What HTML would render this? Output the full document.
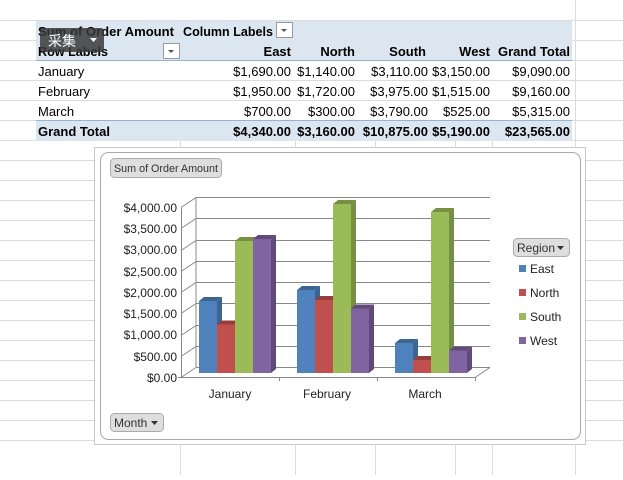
<!DOCTYPE html>
<html><head><meta charset="utf-8"><style>
body{margin:0;background:#fff;width:623px;height:475px;overflow:hidden;font-family:"Liberation Sans","Noto Sans CJK SC",sans-serif}
</style></head><body>
<svg width="623" height="475" xmlns="http://www.w3.org/2000/svg" font-family="Liberation Sans, Noto Sans CJK SC, sans-serif">
<g stroke="#dadcdd" stroke-width="1">
<line x1="0" y1="20.5" x2="623" y2="20.5"/><line x1="0" y1="40.5" x2="623" y2="40.5"/><line x1="0" y1="60.5" x2="623" y2="60.5"/><line x1="0" y1="80.5" x2="623" y2="80.5"/><line x1="0" y1="100.5" x2="623" y2="100.5"/><line x1="0" y1="120.5" x2="623" y2="120.5"/><line x1="0" y1="140.5" x2="623" y2="140.5"/>
<line x1="0" y1="160.5" x2="623" y2="160.5"/><line x1="0" y1="180.5" x2="623" y2="180.5"/><line x1="0" y1="200.5" x2="623" y2="200.5"/><line x1="0" y1="220.5" x2="623" y2="220.5"/><line x1="0" y1="240.5" x2="623" y2="240.5"/><line x1="0" y1="260.5" x2="623" y2="260.5"/><line x1="0" y1="280.5" x2="623" y2="280.5"/><line x1="0" y1="300.5" x2="623" y2="300.5"/><line x1="0" y1="320.5" x2="623" y2="320.5"/><line x1="0" y1="340.5" x2="623" y2="340.5"/><line x1="0" y1="360.5" x2="623" y2="360.5"/><line x1="0" y1="380.5" x2="623" y2="380.5"/><line x1="0" y1="400.5" x2="623" y2="400.5"/><line x1="0" y1="420.5" x2="623" y2="420.5"/><line x1="0" y1="440.5" x2="623" y2="440.5"/>
<line x1="180.5" y1="140" x2="180.5" y2="475"/><line x1="295.5" y1="140" x2="295.5" y2="475"/><line x1="375.5" y1="140" x2="375.5" y2="475"/><line x1="455.5" y1="140" x2="455.5" y2="475"/><line x1="492.5" y1="140" x2="492.5" y2="475"/><line x1="575.5" y1="0" x2="575.5" y2="475"/>
</g>
<rect x="36" y="21" width="536" height="40" fill="#dce6f1"/>
<rect x="36" y="121" width="536" height="20" fill="#dce6f1"/>
<line x1="36" y1="60.5" x2="572" y2="60.5" stroke="#95b3d7"/>
<line x1="36" y1="120.5" x2="572" y2="120.5" stroke="#95b3d7"/>
<g font-size="13" fill="#000">
<text x="38" y="36" font-weight="bold" textLength="136" lengthAdjust="spacingAndGlyphs">Sum of Order Amount</text>
<text x="183" y="36" font-weight="bold" textLength="90" lengthAdjust="spacingAndGlyphs">Column Labels</text>
<text x="38" y="56" font-weight="bold" textLength="70" lengthAdjust="spacingAndGlyphs">Row Labels</text>
<g text-anchor="end" font-weight="bold"><text x="291" y="56">East</text><text x="355" y="56">North</text><text x="426" y="56">South</text><text x="490" y="56">West</text><text x="570" y="56">Grand Total</text></g>
<text x="38" y="76">January</text><text x="38" y="96">February</text><text x="38" y="116">March</text>
<text x="38" y="136" font-weight="bold">Grand Total</text>
<g text-anchor="end">
<text x="291" y="76">$1,690.00</text><text x="355" y="76">$1,140.00</text><text x="428" y="76">$3,110.00</text><text x="490" y="76">$3,150.00</text><text x="570" y="76">$9,090.00</text>
<text x="291" y="96">$1,950.00</text><text x="355" y="96">$1,720.00</text><text x="428" y="96">$3,975.00</text><text x="490" y="96">$1,515.00</text><text x="570" y="96">$9,160.00</text>
<text x="291" y="116">$700.00</text><text x="355" y="116">$300.00</text><text x="428" y="116">$3,790.00</text><text x="490" y="116">$525.00</text><text x="570" y="116">$5,315.00</text>
</g>
<g text-anchor="end" font-weight="bold">
<text x="291" y="136">$4,340.00</text><text x="355" y="136">$3,160.00</text><text x="428" y="136">$10,875.00</text><text x="490" y="136">$5,190.00</text><text x="570" y="136">$23,565.00</text>
</g>
</g>
<rect x="276.5" y="22.5" width="16" height="15" fill="#fff" stroke="#999"/><path d="M281 29h6l-3 3z" fill="#555"/>
<rect x="163.5" y="43.5" width="16" height="15" fill="#fff" stroke="#999"/><path d="M168 50h6l-3 3z" fill="#555"/>
<rect x="40" y="28" width="64" height="24" rx="3" fill="#3a3a3a" opacity="0.85"/>
<text x="48" y="46" font-size="14" fill="#fff">采集</text><path d="M90 38h7l-3.5 4z" fill="#fff"/>
<rect x="94.5" y="147.5" width="491" height="297" fill="#fff" stroke="#c8c8c8"/>
<rect x="100.5" y="152.5" width="480" height="287" rx="8" fill="#fff" stroke="#a8a8a8"/>
<rect x="110.5" y="158.5" width="111" height="19" rx="4" fill="#dedede" stroke="#aaa"/>
<text x="114" y="172" font-size="11" fill="#333" textLength="104" lengthAdjust="spacingAndGlyphs">Sum of Order Amount</text>
<rect x="110.5" y="413.5" width="53" height="18" rx="4" fill="#dedede" stroke="#aaa"/>
<text x="114" y="427" font-size="12" fill="#333">Month</text><path d="M151 421h7l-3.5 4z" fill="#333"/>
<rect x="513.5" y="238.5" width="56" height="18" rx="4" fill="#dedede" stroke="#aaa"/>
<text x="517" y="252" font-size="12" fill="#333">Region</text><path d="M557 246h7l-3.5 4z" fill="#333"/>
<g font-size="12" fill="#222">
<rect x="519" y="265" width="7" height="7" fill="#4f81bd"/><text x="530" y="273">East</text>
<rect x="519" y="289" width="7" height="7" fill="#c0504d"/><text x="530" y="297">North</text>
<rect x="519" y="313" width="7" height="7" fill="#9bbb59"/><text x="530" y="321">South</text>
<rect x="519" y="337" width="7" height="7" fill="#8064a2"/><text x="530" y="345">West</text>
</g>
<g stroke="#888" stroke-width="1" fill="none">
<line x1="196" y1="197" x2="196" y2="367"/>
<path d="M196 197.5h294M196 218.5h294M196 240.5h294M196 261.5h294M196 282.5h294M196 303.5h294M196 325.5h294M196 346.5h294M196 367.5h294"/>
<path d="M181 207.5l15 -10M181 228.5l15-10M181 250.5l15-10M181 271.5l15-10M181 292.5l15-10M181 313.5l15-10M181 335.5l15-10M181 356.5l15-10M181 377.5l15-10"/>
<line x1="181.5" y1="207" x2="181.5" y2="378"/>
<line x1="181" y1="377.5" x2="475" y2="377.5"/>
<line x1="475" y1="377.5" x2="490" y2="367.5"/>
<path d="M178 377.5h3M279.5 377v4M377.5 377v4M475.5 377v4"/>
</g>
<g font-size="12" fill="#222" text-anchor="end">
<text x="177" y="212">$4,000.00</text><text x="177" y="233">$3,500.00</text><text x="177" y="254">$3,000.00</text><text x="177" y="276">$2,500.00</text><text x="177" y="297">$2,000.00</text><text x="177" y="318">$1,500.00</text><text x="177" y="339">$1,000.00</text><text x="177" y="361">$500.00</text><text x="177" y="382">$0.00</text>
</g>
<g font-size="12" fill="#222" text-anchor="middle">
<text x="230" y="398">January</text><text x="327" y="398">February</text><text x="425" y="398">March</text>
</g>
<g>
<path d="M217 301l5 -4v72l-5 4z" fill="#3c6594"/><path d="M199 301l5 -4h18l-5 4z" fill="#3c6594"/><rect x="199" y="301" width="18" height="72" fill="#4f81bd"/>
<path d="M235 324.5l5 -4v48.5l-5 4z" fill="#973e3b"/><path d="M217 324.5l5 -4h18l-5 4z" fill="#973e3b"/><rect x="217" y="324.5" width="18" height="48.5" fill="#c0504d"/>
<path d="M253 241l5 -4v132l-5 4z" fill="#768f43"/><path d="M235 241l5 -4h18l-5 4z" fill="#768f43"/><rect x="235" y="241" width="18" height="132" fill="#9bbb59"/>
<path d="M271 239l5 -4v134l-5 4z" fill="#5f4a7a"/><path d="M253 239l5 -4h18l-5 4z" fill="#5f4a7a"/><rect x="253" y="239" width="18" height="134" fill="#8064a2"/>
<path d="M315 290l5 -4v83l-5 4z" fill="#3c6594"/><path d="M297 290l5 -4h18l-5 4z" fill="#3c6594"/><rect x="297" y="290" width="18" height="83" fill="#4f81bd"/>
<path d="M333 300l5 -4v73l-5 4z" fill="#973e3b"/><path d="M315 300l5 -4h18l-5 4z" fill="#973e3b"/><rect x="315" y="300" width="18" height="73" fill="#c0504d"/>
<path d="M351 204l5 -4v169l-5 4z" fill="#768f43"/><path d="M333 204l5 -4h18l-5 4z" fill="#768f43"/><rect x="333" y="204" width="18" height="169" fill="#9bbb59"/>
<path d="M369 308.5l5 -4v64.5l-5 4z" fill="#5f4a7a"/><path d="M351 308.5l5 -4h18l-5 4z" fill="#5f4a7a"/><rect x="351" y="308.5" width="18" height="64.5" fill="#8064a2"/>
<path d="M413 343l5 -4v30l-5 4z" fill="#3c6594"/><path d="M395 343l5 -4h18l-5 4z" fill="#3c6594"/><rect x="395" y="343" width="18" height="30" fill="#4f81bd"/>
<path d="M431 360l5 -4v13l-5 4z" fill="#973e3b"/><path d="M413 360l5 -4h18l-5 4z" fill="#973e3b"/><rect x="413" y="360" width="18" height="13" fill="#c0504d"/>
<path d="M449 212l5 -4v161l-5 4z" fill="#768f43"/><path d="M431 212l5 -4h18l-5 4z" fill="#768f43"/><rect x="431" y="212" width="18" height="161" fill="#9bbb59"/>
<path d="M467 350.5l5 -4v22.5l-5 4z" fill="#5f4a7a"/><path d="M449 350.5l5 -4h18l-5 4z" fill="#5f4a7a"/><rect x="449" y="350.5" width="18" height="22.5" fill="#8064a2"/>
</g>
</svg>
</body></html>
